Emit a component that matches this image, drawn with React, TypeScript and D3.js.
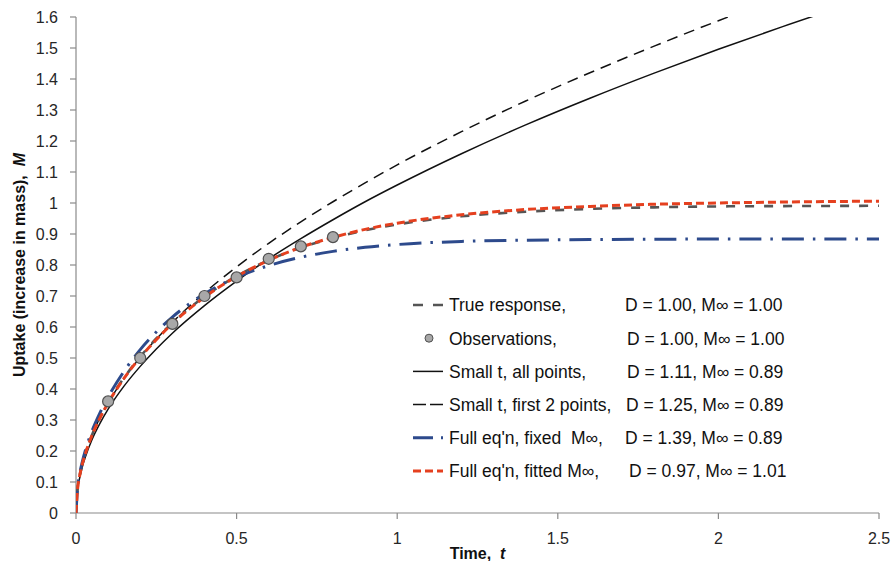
import React from "react";
import * as d3 from "d3";

// time grid shared by the curves
const tGrid = [0, 0.005, 0.01, 0.02, 0.03, 0.05, 0.075, 0.1, 0.15, 0.2, 0.25, 0.3, 0.4, 0.5, 0.6, 0.7, 0.8, 0.9, 1.0, 1.2, 1.4, 1.6, 1.8, 2.0, 2.2, 2.5];

const trueResponse = [0, 0.080, 0.113, 0.160, 0.195, 0.252, 0.309, 0.357, 0.437, 0.504, 0.563, 0.613, 0.698, 0.764, 0.816, 0.856, 0.887, 0.912, 0.931, 0.957, 0.972, 0.981, 0.986, 0.989, 0.990, 0.991];
const smallAll = [0, 0.075, 0.106, 0.150, 0.183, 0.237, 0.290, 0.335, 0.410, 0.473, 0.529, 0.580, 0.669, 0.748, 0.820, 0.885, 0.946, 1.004, 1.058, 1.159, 1.252, 1.338, 1.419, 1.496, 1.569, 1.673];
const smallFirst2 = [0, 0.079, 0.112, 0.159, 0.195, 0.251, 0.308, 0.355, 0.435, 0.502, 0.561, 0.615, 0.710, 0.794, 0.870, 0.939, 1.004, 1.065, 1.123, 1.230, 1.329, 1.420, 1.506, 1.588, 1.665, 1.775];
const fullFixed = [0, 0.084, 0.118, 0.167, 0.205, 0.265, 0.324, 0.374, 0.458, 0.527, 0.584, 0.632, 0.707, 0.760, 0.798, 0.825, 0.844, 0.857, 0.866, 0.876, 0.880, 0.882, 0.883, 0.884, 0.884, 0.884];
const fullFitted = [0, 0.079, 0.112, 0.159, 0.194, 0.251, 0.307, 0.355, 0.435, 0.502, 0.559, 0.611, 0.696, 0.763, 0.815, 0.857, 0.889, 0.915, 0.935, 0.962, 0.979, 0.989, 0.996, 1.000, 1.003, 1.006];

const obsT = [0.1, 0.2, 0.3, 0.4, 0.5, 0.6, 0.7, 0.8];
const obsM = [0.36, 0.50, 0.61, 0.70, 0.76, 0.82, 0.86, 0.89];

const xTicks = [0, 0.5, 1, 1.5, 2, 2.5];
const yTicks = [0, 0.1, 0.2, 0.3, 0.4, 0.5, 0.6, 0.7, 0.8, 0.9, 1, 1.1, 1.2, 1.3, 1.4, 1.5, 1.6];

const legendNames = ["True response,", "Observations,", "Small t, all points,", "Small t, first 2 points,", "Full eq'n, fixed\u00A0 M\u221E,", "Full eq'n, fitted M\u221E,"];
const legendParams = ["D = 1.00, M\u221E = 1.00", "D = 1.00, M\u221E = 1.00", "D = 1.11, M\u221E = 0.89", "D = 1.25, M\u221E = 0.89", "D = 1.39, M\u221E = 0.89", "D = 0.97, M\u221E = 1.01"];
const legendParamX = [625, 627, 627, 626, 625, 629];

const W = 891;
const H = 561;
const left = 76, right = 879, top = 17, bottom = 513;
const font = "'Liberation Sans', Arial, sans-serif";
const axisColor = "#8a8a8a";

const styles = [
  { stroke: "#555555", width: 2.6, dash: "9 10" },
  null,
  { stroke: "#111111", width: 1.5, dash: "" },
  { stroke: "#111111", width: 1.5, dash: "11 7" },
  { stroke: "#2d4a8c", width: 3, dash: "22 9 2.5 9" },
  { stroke: "#e5401f", width: 3, dash: "8 4" },
];

export default function App() {
  const x = d3.scaleLinear().domain([0, 2.5]).range([left, right]);
  const y = d3.scaleLinear().domain([0, 1.6]).range([bottom, top]);

  const line = d3
    .line<number>()
    .x((_, i) => x(tGrid[i]))
    .y((d) => y(d))
    .curve(d3.curveMonotoneX);

  const series = [trueResponse, null, smallAll, smallFirst2, fullFixed, fullFitted];
  const drawOrder = [2, 3, 0, 4, 5];

  const legX = 413, legTextX = 449, legY0 = 305, legStep = 33.2;

  return (
    <svg width={W} height={H} style={{ position: "absolute", left: 0, top: 0, background: "#fff" }} fontFamily={font}>
      <defs>
        <clipPath id="plot">
          <rect x={left} y={top} width={right - left} height={bottom - top} />
        </clipPath>
      </defs>

      {/* axes */}
      <line x1={left} x2={left} y1={top} y2={bottom} stroke={axisColor} strokeWidth={1.2} />
      <line x1={left} x2={right} y1={bottom} y2={bottom} stroke={axisColor} strokeWidth={1.2} />
      {yTicks.map((v) => (
        <g key={"y" + v}>
          <line x1={left - 6} x2={left} y1={y(v)} y2={y(v)} stroke={axisColor} strokeWidth={1.2} />
          <text x={58} y={y(v)} dy="0.36em" textAnchor="end" fontSize={16} fill="#262626">{v}</text>
        </g>
      ))}
      {xTicks.map((v) => (
        <g key={"x" + v}>
          <line x1={x(v)} x2={x(v)} y1={bottom} y2={bottom + 6} stroke={axisColor} strokeWidth={1.2} />
          <text x={x(v)} y={544} textAnchor="middle" fontSize={16} fill="#262626">{v}</text>
        </g>
      ))}

      {/* axis titles */}
      <text transform={`translate(25,${(top + bottom) / 2}) rotate(-90)`} textAnchor="middle" fontSize={16} fontWeight="bold" fill="#111">
        Uptake (increase in mass),{"\u00A0 "}<tspan fontStyle="italic">M</tspan>
      </text>
      <text x={(left + right) / 2} y={559} textAnchor="middle" fontSize={16} fontWeight="bold" fill="#111">
        Time,{"\u00A0 "}<tspan fontStyle="italic">t</tspan>
      </text>

      {/* curves */}
      <g clipPath="url(#plot)">
        {drawOrder.map((k) => {
          const s = styles[k]!;
          return (
            <path key={k} d={line(series[k]!) || ""} fill="none" stroke={s.stroke} strokeWidth={s.width} strokeDasharray={s.dash || undefined} />
          );
        })}
      </g>
      {obsT.map((t, i) => (
        <circle key={"o" + i} cx={x(t)} cy={y(obsM[i])} r={5.5} fill="#a8a8a8" stroke="#505050" strokeWidth={1.2} />
      ))}

      {/* legend */}
      {legendNames.map((name, i) => {
        const cy = legY0 + i * legStep;
        const s = styles[i];
        return (
          <g key={"l" + i}>
            {s ? (
              <line x1={legX} x2={legX + 30} y1={cy} y2={cy} stroke={s.stroke} strokeWidth={s.width} strokeDasharray={i === 0 ? "10 10" : i === 4 ? "20 8 2.5 8" : i === 3 ? "13 4" : s.dash || undefined} />
            ) : (
              <circle cx={legX + 16} cy={cy} r={4} fill="#a8a8a8" stroke="#505050" strokeWidth={1} />
            )}
            <text x={legTextX} y={cy} dy="0.36em" fontSize={17.5} fill="#111">{name}</text>
            <text x={legendParamX[i]} y={cy} dy="0.36em" fontSize={17.5} fill="#111">{legendParams[i]}</text>
          </g>
        );
      })}
    </svg>
  );
}
